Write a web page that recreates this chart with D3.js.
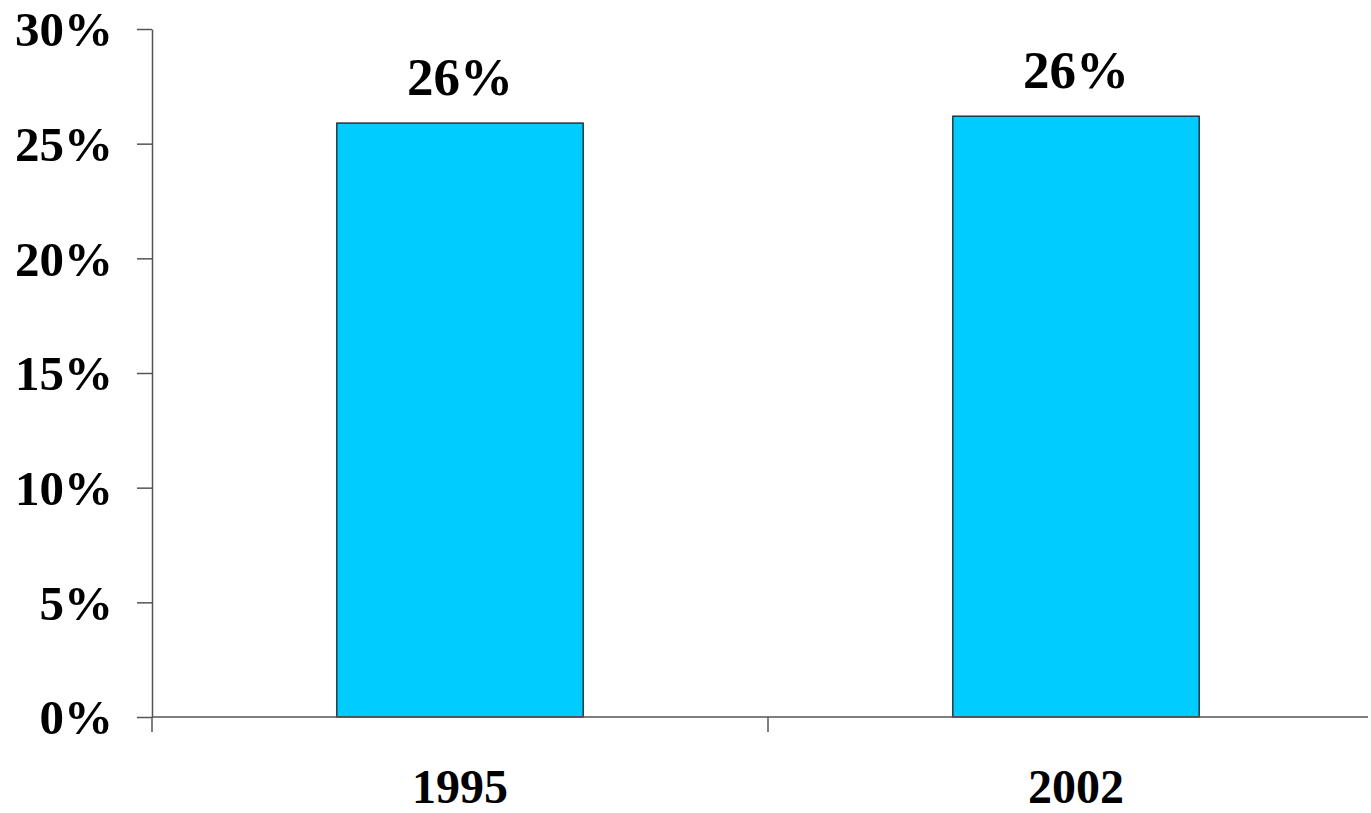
<!DOCTYPE html>
<html><head><meta charset="utf-8">
<script src="https://cdn.jsdelivr.net/npm/d3@7"></script>
<style>body{margin:0;background:#fff}svg{display:block}</style>
</head><body>
<svg id="c" width="1371" height="813"></svg>
<script>
const categories = ["1995", "2002"];
const values = [0.259, 0.262];
const valueLabels = ["26%", "26%"];
const yTicks = [0, 0.05, 0.10, 0.15, 0.20, 0.25, 0.30];

const svg = d3.select("#c");
const font = "'Liberation Serif','Times New Roman',serif";
const axisColor = "#555";

const y = d3.scaleLinear().domain([0, 0.30]).range([717, 29]);
const x = d3.scaleBand().domain(categories).range([152, 1384]).paddingInner(0.6).paddingOuter(0.3);

// bars
svg.selectAll("rect.bar").data(categories).join("rect")
  .attr("class", "bar")
  .attr("x", d => x(d))
  .attr("width", x.bandwidth())
  .attr("y", (d, i) => y(values[i]))
  .attr("height", (d, i) => y(0) - y(values[i]))
  .attr("fill", "#00CCFF")
  .attr("stroke", "#111")
  .attr("stroke-width", 1.2);

// y axis
const yAxis = svg.append("g").attr("transform", "translate(152,0)")
  .call(d3.axisLeft(y).tickValues(yTicks).tickFormat(d3.format(".0%")).tickSize(15).tickSizeOuter(0).tickPadding(24));
yAxis.select(".domain").attr("stroke", axisColor).attr("stroke-width", 1.5);
yAxis.selectAll(".tick line").attr("stroke", axisColor).attr("stroke-width", 1.5);
yAxis.selectAll(".tick text").attr("font-family", font).attr("font-weight", "bold")
  .attr("font-size", 49).attr("fill", "#000").attr("dy", "0.34em");

// x axis line
const step = x.step();
const gap = (step - x.bandwidth()) / 2;
svg.append("line").attr("x1", 152).attr("x2", 1368).attr("y1", y(0)).attr("y2", y(0))
  .attr("stroke", axisColor).attr("stroke-width", 1.5);
// category boundary ticks
svg.selectAll("line.ctick").data(categories).join("line")
  .attr("class", "ctick")
  .attr("x1", d => x(d) - gap).attr("x2", d => x(d) - gap)
  .attr("y1", y(0)).attr("y2", y(0) + 15)
  .attr("stroke", axisColor).attr("stroke-width", 1.5);

// category labels
svg.selectAll("text.cat").data(categories).join("text")
  .attr("class", "cat")
  .attr("x", d => x(d) + x.bandwidth() / 2)
  .attr("y", y(0) + 86)
  .attr("text-anchor", "middle")
  .attr("font-family", font).attr("font-weight", "bold").attr("font-size", 48)
  .text(d => d);

// value labels
svg.selectAll("text.val").data(categories).join("text")
  .attr("class", "val")
  .attr("x", d => x(d) + x.bandwidth() / 2)
  .attr("y", (d, i) => y(values[i]) - 28)
  .attr("text-anchor", "middle")
  .attr("font-family", font).attr("font-weight", "bold").attr("font-size", 53)
  .text((d, i) => valueLabels[i]);
</script>
</body></html>
